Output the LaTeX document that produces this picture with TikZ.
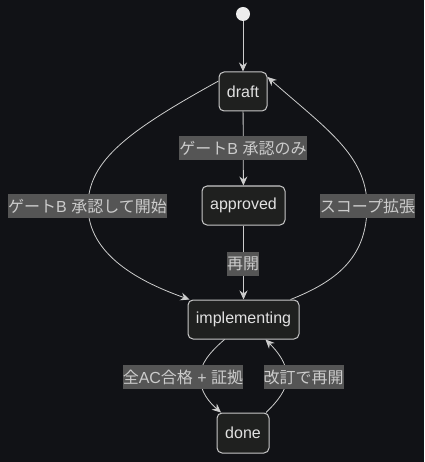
\documentclass[tikz,border=0pt]{standalone}
\usepackage{fontspec}
\setmainfont{Liberation Sans}
\newfontfamily\cjk{Noto Sans CJK JP}
\usetikzlibrary{arrows.meta}
\definecolor{bgc}{RGB}{17,18,22}
\definecolor{nodefill}{RGB}{31,32,31}
\definecolor{nodeline}{RGB}{200,200,200}
\definecolor{edgec}{RGB}{205,205,205}
\definecolor{lblbg}{RGB}{85,85,85}
\definecolor{lbltext}{RGB}{204,204,204}
\definecolor{nodetext}{RGB}{225,225,225}
\tikzset{
  statebox/.style={draw=nodeline, fill=nodefill, line width=1pt, rounded corners=5pt,
    inner sep=0pt, minimum height=39pt, text=nodetext,
    font=\fontsize{16}{19}\selectfont},
  edgelbl/.style={fill=lblbg, text=lbltext, inner xsep=0pt, inner ysep=0pt,
    minimum height=24pt, font=\fontsize{16}{19}\selectfont},
  trans/.style={draw=edgec, line width=0.8pt, -{Stealth[length=9pt,width=8pt,inset=3pt]}},
}
\begin{document}
\begin{tikzpicture}[x=1pt,y=-1pt]
\useasboundingbox[fill=bgc] (0,0) rectangle (424,462);
\node[circle, fill=white!93!black, minimum size=14pt, inner sep=0pt] (start) at (243,14) {};
\node[statebox, minimum width=48pt] (draft) at (243,91.5) {draft};
\node[statebox, minimum width=83pt] (approved) at (243.5,205.5) {approved};
\node[statebox, minimum width=111pt] (impl) at (243.5,319.5) {implementing};
\node[statebox, minimum width=52pt, minimum height=40pt] (done) at (243,433) {done};

\draw[trans] (start) -- (draft);
\draw[trans] (draft) -- (approved);
\draw[trans] (approved) -- (impl);
\draw[trans] ([yshift=10.5pt]draft.west) .. controls (130,130) and (88,160) .. (88,206)
  .. controls (88,255) and (140,282) .. ([xshift=2pt]impl.north west);
\draw[trans] ([xshift=-9pt]impl.north east) .. controls (340,280) and (367,255) .. (367,206)
  .. controls (367,155) and (325,128) .. ([yshift=14.5pt]draft.east);
\draw[trans] ([xshift=-19pt]impl.south) .. controls (210,352) and (200,364) .. (200,377)
  .. controls (200,392) and (210,403) .. ([xshift=-22pt]done.north);
\draw[trans] ([xshift=23pt]done.north) .. controls (277,402) and (287,390) .. (287,377)
  .. controls (287,363) and (277,351) .. ([xshift=22pt]impl.south);

\node[edgelbl] (l1) at (243,148.5) {{\cjk ゲート}B {\cjk 承認のみ}};
\node[edgelbl] (l2) at (87.5,206) {{\cjk ゲート}B {\cjk 承認して開始}};
\node[edgelbl] (l3) at (367.5,206) {\cjk スコープ拡張};
\node[edgelbl] (l4) at (243,263.5) {\cjk 再開};
\node[edgelbl] (l5) at (183,377) {{\cjk 全}AC{\cjk 合格} + {\cjk 証拠}};
\node[edgelbl] (l6) at (303.5,377) {\cjk 改訂で再開};
\end{tikzpicture}
\end{document}
